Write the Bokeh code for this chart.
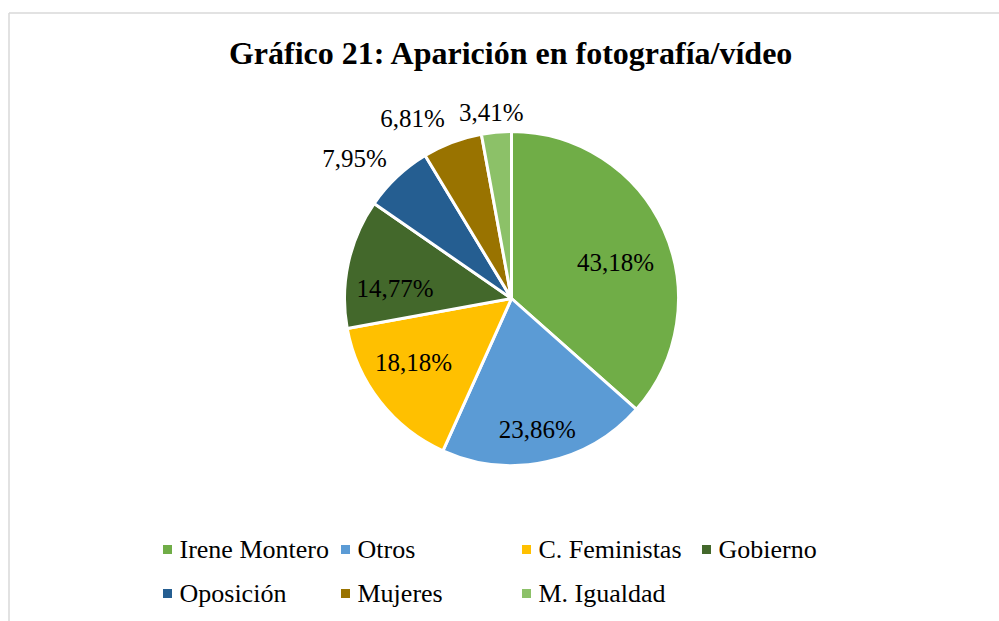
import math
from bokeh.plotting import figure
from bokeh.models import Range1d
from bokeh.core.properties import value
from bokeh.embed import file_html
from bokeh.resources import INLINE

# ---- data ----
categories = ["Irene Montero", "Otros", "C. Feministas", "Gobierno", "Oposición", "Mujeres", "M. Igualdad"]
values = [43.18, 23.86, 18.18, 14.77, 7.95, 6.81, 3.41]
labels = ["43,18%", "23,86%", "18,18%", "14,77%", "7,95%", "6,81%", "3,41%"]
colors = ["#70AD47", "#5B9BD5", "#FFC000", "#43682B", "#255E91", "#997300", "#8CC168"]
title = "Gráfico 21: Aparición en fotografía/vídeo"

# ---- layout (page-pixel based coordinates) ----
W, H = 999, 621
def Y(img_y):
    return H - img_y

cx, cy, r = 511, Y(298), 167
label_rad = [0.66, 0.80, 0.70, 0.70, 1.26, 1.23, 1.12]
label_ang_nudge = [-5, -1, -5, 7, 5, 8, 1]

p = figure(width=W, height=H, output_backend="svg", toolbar_location=None,
           x_range=Range1d(0, W), y_range=Range1d(0, H),
           min_border=0, outline_line_color=None, background_fill_color="white",
           border_fill_color="white")
p.axis.visible = False
p.grid.visible = False

# frame
p.line([8.5, 8.5], [Y(625), Y(12.5)], line_color="#d9d9d9", line_width=1.5)
p.line([8.5, 1005], [Y(12.5), Y(12.5)], line_color="#d9d9d9", line_width=1.5)

# pie wedges (clockwise from top)
total = sum(values)
starts, ends, mids = [], [], []
cum = 0.0
for v in values:
    a0 = 90 - cum / total * 360
    a1 = a0 - v / total * 360
    starts.append(a1)
    ends.append(a0)
    mids.append((a0 + a1) / 2)
    cum += v

p.wedge(x=cx, y=cy, radius=r, start_angle=starts, end_angle=ends,
        start_angle_units="deg", end_angle_units="deg", direction="anticlock",
        fill_color=colors, line_color="white", line_width=3)

# data labels
lx, ly = [], []
for m, f, n in zip(mids, label_rad, label_ang_nudge):
    a = math.radians(m + n)
    lx.append(cx + f * r * math.cos(a))
    ly.append(cy + f * r * math.sin(a))
p.text(x=lx, y=ly, text=labels, text_font=value("Liberation Serif"),
       text_font_size="25px", text_align="center", text_baseline="middle",
       text_color="black")

# title
p.text(x=[511], y=[Y(52)], text=[title], text_font=value("Liberation Serif"),
       text_font_size="32px", text_font_style="bold", text_align="center",
       text_baseline="middle", text_color="black")

# legend (manual, two rows)
col_x = [167, 345, 526, 706]
row_y = [Y(549), Y(593)]
mx, my, tx, ty = [], [], [], []
for i, c in enumerate(categories):
    row, col = divmod(i, 4)
    mx.append(col_x[col]); my.append(row_y[row])
    tx.append(col_x[col] + 12); ty.append(row_y[row])
p.scatter(x=mx, y=my, marker="square", size=9, fill_color=colors, line_color=None)
p.text(x=tx, y=ty, text=categories, text_font=value("Liberation Serif"),
       text_font_size="26px", text_align="left", text_baseline="middle",
       text_color="black")

open("out.html", "w").write(file_html(p, INLINE))
